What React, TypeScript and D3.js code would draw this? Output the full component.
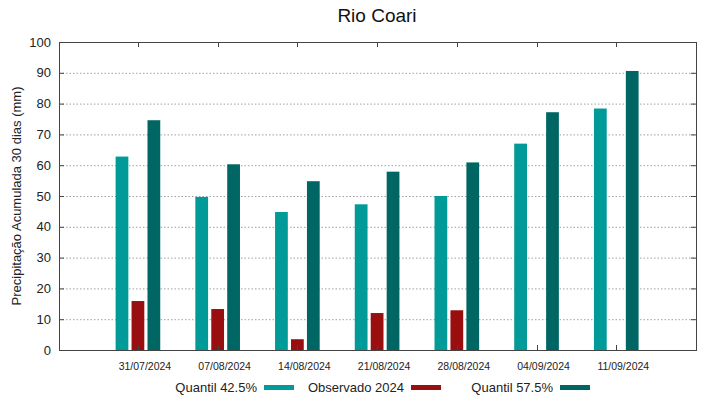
import React, { useEffect, useRef } from 'react';
import * as d3 from 'd3';

const categories = ['31/07/2024', '07/08/2024', '14/08/2024', '21/08/2024', '28/08/2024', '04/09/2024', '11/09/2024'];
const quantil425 = [62.8, 49.7, 44.8, 47.3, 50.0, 67.0, 78.4];
const observado = [15.9, 13.3, 3.5, 12.0, 12.9, null, null];
const quantil575 = [74.6, 60.3, 54.8, 57.9, 60.9, 77.2, 90.6];
const yTicks = [0, 10, 20, 30, 40, 50, 60, 70, 80, 90, 100];

const series = [
  { name: 'Quantil 42.5%', values: quantil425, color: '#009a98' },
  { name: 'Observado 2024', values: observado, color: '#990e0e' },
  { name: 'Quantil 57.5%', values: quantil575, color: '#006663' },
];

const W = 719;
const H = 399;
const margin = { top: 42, right: 23, bottom: 49, left: 59 };
const font = '"Liberation Sans", Arial, sans-serif';

const App = () => {
  const svgRef = useRef<SVGSVGElement>(null);

  useEffect(() => {
    if (!svgRef.current) return;
    const svg = d3.select(svgRef.current);
    svg.selectAll('*').remove();

    const x0 = margin.left;
    const x1 = W - margin.right;
    const y0 = H - margin.bottom;
    const y1 = margin.top;

    // gnuplot style: category index on a linear axis from -1 to n
    const x = d3.scaleLinear().domain([-0.99, categories.length]).range([x0, x1]);
    const y = d3.scaleLinear().domain([0, 100]).range([y0, y1]);
    const unit = x(1) - x(0);
    const barW = unit * 0.16;
    const step = unit * 0.2;

    // grid
    svg.append('g')
      .selectAll('line')
      .data(yTicks.filter(t => t > 0 && t < 100))
      .join('line')
      .attr('x1', x0).attr('x2', x1)
      .attr('y1', d => y(d) + 0.5).attr('y2', d => y(d) + 0.5)
      .attr('stroke', '#a0a0a0')
      .attr('stroke-width', 1)
      .attr('stroke-dasharray', '1.5,2');

    // bars
    series.forEach((s, si) => {
      svg.append('g')
        .selectAll('rect')
        .data(s.values.map((v, i) => ({ v, i })).filter(d => d.v != null))
        .join('rect')
        .attr('x', d => x(d.i) + (si - 1) * step - barW / 2)
        .attr('y', d => y(d.v as number))
        .attr('width', barW)
        .attr('height', d => y0 - y(d.v as number))
        .attr('fill', s.color);
    });

    // frame
    svg.append('rect')
      .attr('x', x0 + 0.5).attr('y', y1 + 0.5)
      .attr('width', x1 - x0).attr('height', y0 - y1)
      .attr('fill', 'none')
      .attr('stroke', '#444')
      .attr('stroke-width', 1);

    // y ticks + labels
    const yg = svg.append('g');
    yTicks.forEach(t => {
      yg.append('line').attr('x1', x0).attr('x2', x0 + 5).attr('y1', y(t) + 0.5).attr('y2', y(t) + 0.5).attr('stroke', '#444');
      yg.append('line').attr('x1', x1 - 5).attr('x2', x1).attr('y1', y(t) + 0.5).attr('y2', y(t) + 0.5).attr('stroke', '#444');
      yg.append('text')
        .attr('x', x0 - 8).attr('y', y(t) + 4.5)
        .attr('text-anchor', 'end')
        .attr('font-family', font).attr('font-size', 13)
        .attr('fill', '#222')
        .text(t);
    });

    // x ticks + labels
    const xg = svg.append('g');
    categories.forEach((c, i) => {
      const cx = Math.round(x(i)) + 0.5;
      xg.append('line').attr('x1', cx).attr('x2', cx).attr('y1', y0 - 5).attr('y2', y0).attr('stroke', '#444');
      xg.append('line').attr('x1', cx).attr('x2', cx).attr('y1', y1).attr('y2', y1 + 5).attr('stroke', '#444');
      xg.append('text')
        .attr('x', x(i) + 7).attr('y', y0 + 20)
        .attr('text-anchor', 'middle')
        .attr('font-family', font).attr('font-size', 10.5)
        .attr('fill', '#222')
        .text(c);
    });

    // title
    svg.append('text')
      .attr('x', 377).attr('y', 22)
      .attr('text-anchor', 'middle')
      .attr('font-family', font).attr('font-size', 19)
      .attr('fill', '#111')
      .text('Rio Coari');

    // y label
    svg.append('text')
      .attr('transform', `translate(21,${(y0 + y1) / 2}) rotate(-90)`)
      .attr('text-anchor', 'middle')
      .attr('font-family', font).attr('font-size', 13)
      .attr('fill', '#222')
      .text('Precipitação Acumulada 30 dias (mm)');

    // legend
    const legendX = [257, 404, 553];
    const lg = svg.append('g');
    series.forEach((s, i) => {
      lg.append('text')
        .attr('x', legendX[i]).attr('y', 392)
        .attr('text-anchor', 'end')
        .attr('font-family', font).attr('font-size', 13)
        .attr('fill', '#222')
        .text(s.name);
      lg.append('rect')
        .attr('x', legendX[i] + 7).attr('y', 385)
        .attr('width', 30).attr('height', 5)
        .attr('fill', s.color);
    });
  }, []);

  return <svg ref={svgRef} width={W} height={H} style={{ display: 'block', position: 'absolute', left: 0, top: 0, background: '#fff' }} />;
};

export default App;
